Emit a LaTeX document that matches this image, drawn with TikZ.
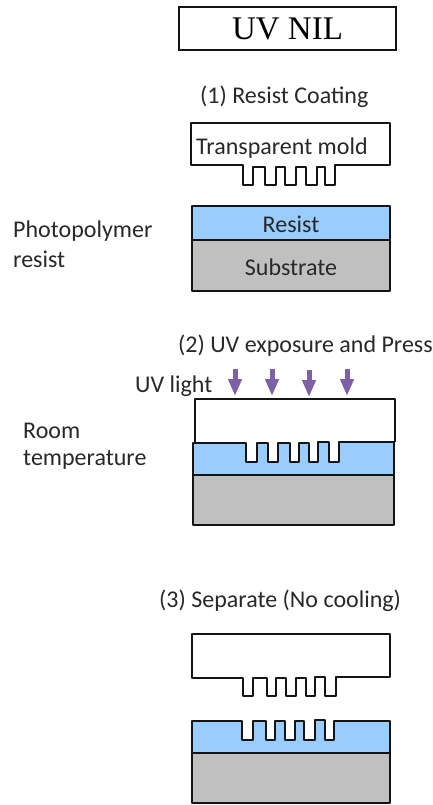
\documentclass[tikz,border=0pt]{standalone}
\usepackage{xcolor}
\usepackage{fontspec}
\usepackage{tikz}
\usetikzlibrary{arrows.meta}
\setmainfont{Carlito}
\newfontfamily\titlefont{Liberation Serif}
\definecolor{myblue}{RGB}{153,204,255}
\definecolor{mygray}{RGB}{192,192,192}
\definecolor{mypurple}{RGB}{126,96,166}
\definecolor{mydark}{RGB}{20,20,20}
\definecolor{mytext}{RGB}{40,40,40}
\tikzset{
  mold/.style={draw=mydark, fill=white, line width=2pt, line join=round},
  resist/.style={draw=mydark, fill=myblue, line width=2pt, line join=round},
  substrate/.style={draw=mydark, fill=mygray, line width=2pt, line join=round},
  label/.style={font=\fontsize{24}{26}\selectfont, text=mytext, inner sep=0pt, anchor=west},
  inlabel/.style={font=\fontsize{24}{26}\selectfont, text=mytext, inner sep=0pt},
  uvarrow/.style={-{Triangle[length=17pt,width=13pt]}, line width=5pt, color=mypurple}
}
\begin{document}
\begin{tikzpicture}[x=1pt, y=-1pt]
  \useasboundingbox (0,0) rectangle (433,805);

  % Title
  \node[draw=mydark, line width=2pt, minimum width=217pt, minimum height=43pt, inner sep=0pt,
    font=\titlefont\fontsize{33}{35}\selectfont] (title) at (287.5,28.5) {UV NIL};

  % Step 1
  \node[label] (step1) at (200,97) {(1) Resist Coating};
  \draw[mold] (191,123) -- (390,123) -- (390,165) -- (335,165) -- (335,185) -- (325,185) -- (325,167)
    -- (317,167) -- (317,185) -- (306,185) -- (306,167) -- (296,167) -- (296,185) -- (285,185)
    -- (285,167) -- (276,167) -- (276,185) -- (265,185) -- (265,167) -- (253,167) -- (253,185)
    -- (243,185) -- (243,165) -- (191,165) -- cycle;
  \node[label] (moldtext) at (196,148) {Transparent mold};
  \draw[substrate] (192,240) rectangle (390,291);
  \draw[resist] (192,206) rectangle (390,240);
  \node[inlabel] (resist1) at (291,224) {Resist};
  \node[inlabel] (substrate1) at (291,267) {Substrate};
  \node[label] (photo) at (13,231) {Photopolymer};
  \node[label] (photo2) at (13,259) {resist};

  % Step 2
  \node[label] (step2) at (178,346) {(2) UV exposure and Press};
  \node[label] (uvtext) at (135,386) {UV light};
  \coordinate (a1s) at (235,369); \coordinate (a1e) at (235,396);
  \coordinate (a2s) at (272,369); \coordinate (a2e) at (272,396);
  \coordinate (a3s) at (309,370); \coordinate (a3e) at (309,397);
  \coordinate (a4s) at (347,369); \coordinate (a4e) at (347,396);
  \draw[uvarrow] (a1s) -- (a1e);
  \draw[uvarrow] (a2s) -- (a2e);
  \draw[uvarrow] (a3s) -- (a3e);
  \draw[uvarrow] (a4s) -- (a4e);
  \draw[mold] (195,442) -- (195,399) -- (395,399) -- (395,442);
  \draw[substrate] (193,475) rectangle (394,525);
  \draw[resist] (193,443) -- (246,443) -- (246,462) -- (257,462) -- (257,443) -- (268,443) -- (268,462)
    -- (278,462) -- (278,443) -- (290,443) -- (290,462) -- (299,462) -- (299,443) -- (309,443)
    -- (309,462) -- (318,462) -- (318,442) -- (329,442) -- (329,462) -- (339,462) -- (339,442)
    -- (394,442) -- (394,475) -- (193,475) -- cycle;
  \node[label] (room) at (23,431) {Room};
  \node[label] (room2) at (23,460) {temperature};

  % Step 3
  \node[label] (step3) at (159,601) {(3) Separate (No cooling)};
  \draw[mold] (192,634) -- (390,634) -- (390,677) -- (336,677) -- (336,696) -- (325,696) -- (325,677)
    -- (315,677) -- (315,696) -- (306,696) -- (306,678) -- (296,678) -- (296,696) -- (286,696)
    -- (286,678) -- (276,678) -- (276,696) -- (267,696) -- (267,678) -- (253,678) -- (253,696)
    -- (243,696) -- (243,678) -- (192,678) -- cycle;
  \draw[substrate] (192,753) rectangle (390,803);
  \draw[resist] (192,721) -- (242,721) -- (242,740) -- (253,740) -- (253,721) -- (266,721) -- (266,740)
    -- (275,740) -- (275,721) -- (285,721) -- (285,740) -- (295,740) -- (295,721) -- (304,721)
    -- (304,740) -- (315,740) -- (315,720) -- (325,720) -- (325,740) -- (334,740) -- (334,721)
    -- (390,721) -- (390,753) -- (192,753) -- cycle;
\end{tikzpicture}
\end{document}
